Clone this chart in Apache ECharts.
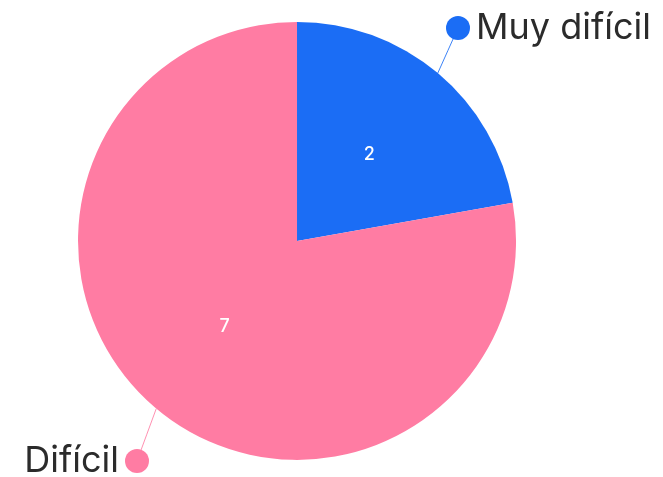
<!DOCTYPE html>
<html>
<head>
<meta charset="utf-8">
<script src="https://cdn.jsdelivr.net/npm/echarts@6/dist/echarts.min.js"></script>
<style>html,body{margin:0;padding:0;background:#fff}#c{width:663px;height:477px}</style>
</head>
<body>
<div id="c"></div>
<script>
const categories = ['Muy difícil', 'Difícil'];
const values = [2, 7];
const colors = ['#1b6df5', '#ff7ca3'];

const chart = echarts.init(document.getElementById('c'));
const data = categories.map((n, i) => ({ name: n, value: values[i], itemStyle: { color: colors[i] } }));

const outerLabelData = categories.map((n, i) => ({
  name: n, value: values[i],
  itemStyle: { color: 'rgba(0,0,0,0)' },
  label: {
    formatter: i === 0 ? '{dot0|}{gap|}{name|{b}}' : '{name|{b}}{gap|}{dot1|}'
  },
  labelLine: { lineStyle: { color: colors[i], width: 1, opacity: 0.85 } }
}));

const labelPos = [
  { x: 446, y: 28, align: 'left', dot: 12 },
  { x: 149, y: 461, align: 'right', dot: -12 }
];

chart.setOption({
  animation: false,
  series: [
    {
      type: 'pie',
      center: ['44.8%', '50.5%'],
      radius: [0, 219],
      startAngle: 90,
      clockwise: true,
      data: data,
      label: {
        show: true, position: 'inside', formatter: '{c}',
        color: '#fff', fontSize: 18, fontWeight: 500, fontFamily: 'Inter'
      },
      labelLine: { show: false },
      emphasis: { disabled: true }
    },
    {
      type: 'pie',
      center: ['44.8%', '50.5%'],
      radius: [0, 219],
      startAngle: 90,
      clockwise: true,
      silent: true,
      data: outerLabelData,
      label: {
        show: true, position: 'outside', overflow: 'none',
        rich: {
          name: { fontSize: 36, fontWeight: 400, color: '#2b2b2b', fontFamily: 'Inter' },
          gap: { width: 6 },
          dot0: { width: 24, height: 24, borderRadius: 12, backgroundColor: colors[0] },
          dot1: { width: 24, height: 24, borderRadius: 12, backgroundColor: colors[1] }
        }
      },
      labelLine: { show: true, length: 20, length2: 0, smooth: false },
      labelLayout: function (p) {
        const l = labelPos[p.dataIndex];
        const res = { x: l.x, y: l.y, align: l.align, verticalAlign: 'middle', width: 300 };
        if (p.labelLinePoints && p.labelLinePoints[0]) {
          const s = p.labelLinePoints[0];
          const e = [l.x + l.dot, l.y];
          res.labelLinePoints = [s, [(s[0] + e[0]) / 2, (s[1] + e[1]) / 2], e];
        }
        return res;
      },
      emphasis: { disabled: true }
    }
  ]
});
</script>
</body>
</html>
